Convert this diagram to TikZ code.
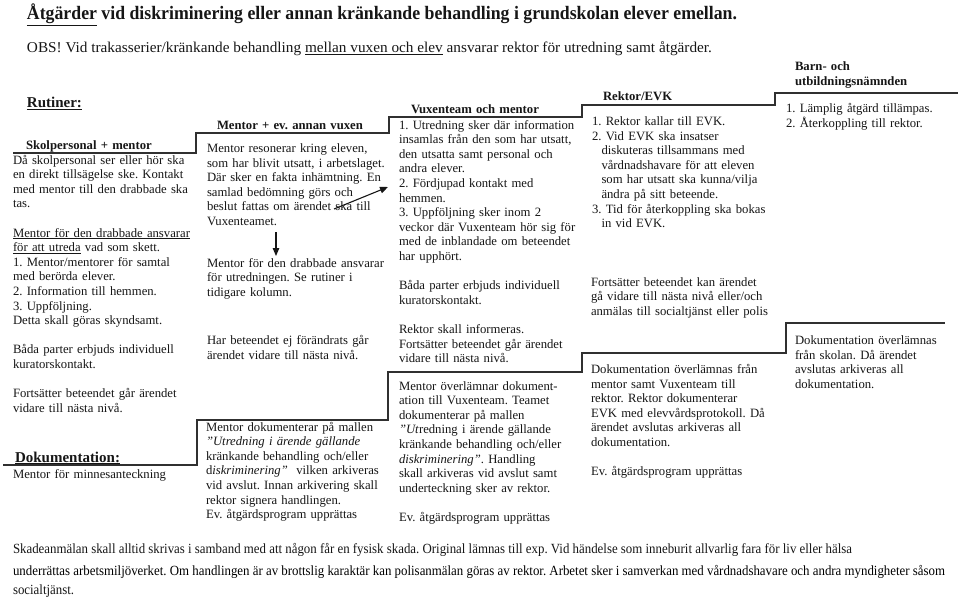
\documentclass[tikz,border=0pt]{standalone}
\usepackage{fontspec}
\setmainfont{Liberation Serif}
\usetikzlibrary{arrows.meta}
\definecolor{ink}{HTML}{161616}
\definecolor{rule}{HTML}{303030}
\newcommand\colfont{\fontsize{12.7}{14.6}\selectfont}
\newcommand\headfont{\fontsize{12.7}{14.6}\selectfont\bfseries}
\newcommand\bigbold{\fontsize{15}{18}\selectfont\bfseries}
\newcommand\botfont{\fontsize{14}{16}\selectfont}
\newsavebox\lineB
\frenchspacing
\begin{document}
\frenchspacing
\sbox\lineB{\botfont underrättas arbetsmiljöverket. Om handlingen är av brottslig karaktär kan polisanmälan göras av rektor. Arbetet sker i samverkan med vårdnadshavare och andra myndigheter såsom}
\pgfmathsetmacro\bscale{932/\the\wd\lineB}
\begin{tikzpicture}[x=1pt,y=-1pt,
  txt/.style={anchor=base west, inner sep=0pt, outer sep=0pt, align=left, text width=250pt, font=\colfont, text=ink},
  head/.style={anchor=base west, inner sep=0pt, outer sep=0pt, align=left, text width=200pt, font=\headfont, text=ink},
  big/.style={anchor=base west, inner sep=0pt, outer sep=0pt, font=\bigbold, text=ink},
  plain/.style={anchor=base west, inner sep=0pt, outer sep=0pt, text=ink},
  stair/.style={draw=rule, line width=1.4pt, line join=miter},
  arr/.style={draw=ink, line width=1.1pt, -{Triangle[length=8pt,width=6.5pt]}}]
\useasboundingbox (0,0) rectangle (960,599);
\fill[white] (0,0) rectangle (960,599);

% title lines
\node[plain] (title) at (27,19.5) {\resizebox{710pt}{\height}{\fontsize{19}{22}\selectfont\bfseries\underline{Åtgärder} vid diskriminering eller annan kränkande behandling i grundskolan elever emellan.}};
\node[plain] (obs) at (27,53) {\resizebox{685pt}{\height}{\fontsize{15}{18}\selectfont OBS! Vid trakasserier/kränkande behandling \underline{mellan vuxen och elev} ansvarar rektor för utredning samt åtgärder.}};

% column 1
\node[big] (rutiner) at (27,108) {\underline{Rutiner:}};
\node[head] (h1) at (26,149.5) {Skolpersonal + mentor};
\node[txt] (c1) at (13,164) {Då skolpersonal ser eller hör ska\\
en direkt tillsägelse ske. Kontakt\\
med mentor till den drabbade ska\\
tas.\\[14.6pt]
\underline{Mentor för den drabbade ansvarar}\\
\underline{för att utreda} vad som skett.\\
1. Mentor/mentorer för samtal\\
med berörda elever.\\
2. Information till hemmen.\\
3. Uppföljning.\\
Detta skall göras skyndsamt.\\[14.6pt]
Båda parter erbjuds individuell\\
kuratorskontakt.\\[14.6pt]
Fortsätter beteendet går ärendet\\
vidare till nästa nivå.};
\node[big] (dok) at (15,462) {\underline{Dokumentation:}};
\node[txt] (c1d) at (13,478) {Mentor för minnesanteckning};

% column 2
\node[head] (h2) at (217,129) {Mentor + ev. annan vuxen};
\node[txt] (c2a) at (207,152.5) {Mentor resonerar kring eleven,\\
som har blivit utsatt, i arbetslaget.\\
Där sker en fakta inhämtning. En\\
samlad bedömning görs och\\
beslut fattas om ärendet ska till\\
Vuxenteamet.};
\node[txt] (c2b) at (207,267) {Mentor för den drabbade ansvarar\\
för utredningen. Se rutiner i\\
tidigare kolumn.};
\node[txt] (c2c) at (207,344.5) {Har beteendet ej förändrats går\\
ärendet vidare till nästa nivå.};
\node[txt] (c2d) at (206,431) {Mentor dokumenterar på mallen\\
\textit{”Utredning i ärende gällande}\\
kränkande behandling och/eller\\
d\textit{iskriminering”}\ \ vilken arkiveras\\
vid avslut. Innan arkivering skall\\
rektor signera handlingen.\\
Ev. åtgärdsprogram upprättas};

% column 3
\node[head] (h3) at (411,113.5) {Vuxenteam och mentor};
\node[txt] (c3a) at (399,129) {1. Utredning sker där information\\
insamlas från den som har utsatt,\\
den utsatta samt personal och\\
andra elever.\\
2. Fördjupad kontakt med\\
hemmen.\\
3. Uppföljning sker inom 2\\
veckor där Vuxenteam hör sig för\\
med de inblandade om beteendet\\
har upphört.\\[14.6pt]
Båda parter erbjuds individuell\\
kuratorskontakt.\\[14.6pt]
Rektor skall informeras.\\
Fortsätter beteendet går ärendet\\
vidare till nästa nivå.};
\node[txt] (c3b) at (399,390) {Mentor överlämnar dokument-\\
ation till Vuxenteam. Teamet\\
dokumenterar på mallen\\
\textit{”Ut}redning i ärende gällande\\
kränkande behandling och/eller\\
\textit{diskriminering”}. Handling\\
skall arkiveras vid avslut samt\\
underteckning sker av rektor.\\[14.6pt]
Ev. åtgärdsprogram upprättas};

% column 4
\node[head] (h4) at (603,101) {Rektor/EVK};
\node[txt] (c4a) at (592,125.5) {1. Rektor kallar till EVK.\\
2. Vid EVK ska insatser\\
\hspace*{9.5pt}diskuteras tillsammans med\\
\hspace*{9.5pt}vårdnadshavare för att eleven\\
\hspace*{9.5pt}som har utsatt ska kunna/vilja\\
\hspace*{9.5pt}ändra på sitt beteende.\\
3. Tid för återkoppling ska bokas\\
\hspace*{9.5pt}in vid EVK.};
\node[txt] (c4b) at (591,286) {Fortsätter beteendet kan ärendet\\
gå vidare till nästa nivå eller/och\\
anmälas till socialtjänst eller polis};
\node[txt] (c4c) at (591,373.5) {Dokumentation överlämnas från\\
mentor samt Vuxenteam till\\
rektor. Rektor dokumenterar\\
EVK med elevvårdsprotokoll. Då\\
ärendet avslutas arkiveras all\\
dokumentation.\\[14.6pt]
Ev. åtgärdsprogram upprättas};

% column 5
\node[head] (h5) at (795,71) {Barn- och\\utbildningsnämnden};
\node[txt] (c5a) at (786,112.5) {1. Lämplig åtgärd tillämpas.\\
2. Återkoppling till rektor.};
\node[txt] (c5b) at (795,344.5) {Dokumentation överlämnas\\
från skolan. Då ärendet\\
avslutas arkiveras all\\
dokumentation.};

% bottom note
\node[plain] (n1) at (13,553) {\scalebox{\bscale}[1]{\botfont Skadeanmälan skall alltid skrivas i samband med att någon får en fysisk skada. Original lämnas till exp. Vid händelse som inneburit allvarlig fara för liv eller hälsa}};
\node[plain] (n2) at (13,575) {\scalebox{\bscale}[1]{\usebox\lineB}};
\node[plain] (n3) at (13,594) {\scalebox{\bscale}[1]{\botfont socialtjänst.}};

% staircase of headings (top)
\coordinate (t0) at (13,153);
\coordinate (t1) at (196,153);
\coordinate (t2) at (196,133);
\coordinate (t3) at (389,133);
\coordinate (t4) at (389,117);
\coordinate (t5) at (582,117);
\coordinate (t6) at (582,105);
\coordinate (t7) at (775,105);
\coordinate (t8) at (775,93);
\coordinate (t9) at (958,93);
\draw[stair] (t0) -- (t1) -- (t2) -- (t3) -- (t4) -- (t5) -- (t6) -- (t7) -- (t8) -- (t9);

% staircase of documentation (bottom)
\coordinate (b0) at (3,465);
\coordinate (b1) at (197,465);
\coordinate (b2) at (197,420);
\coordinate (b3) at (388,420);
\coordinate (b4) at (388,372);
\coordinate (b5) at (582,372);
\coordinate (b6) at (582,353);
\coordinate (b7) at (786,353);
\coordinate (b8) at (786,323);
\coordinate (b9) at (945,323);
\draw[stair] (b0) -- (b1) -- (b2) -- (b3) -- (b4) -- (b5) -- (b6) -- (b7) -- (b8) -- (b9);

% arrows
\coordinate (a1s) at (276,232);
\coordinate (a1e) at (276,256);
\draw[arr] (a1s) -- (a1e);
\coordinate (a2s) at (334,209);
\coordinate (a2e) at (388,187);
\draw[arr] (a2s) -- (a2e);
\end{tikzpicture}
\end{document}
